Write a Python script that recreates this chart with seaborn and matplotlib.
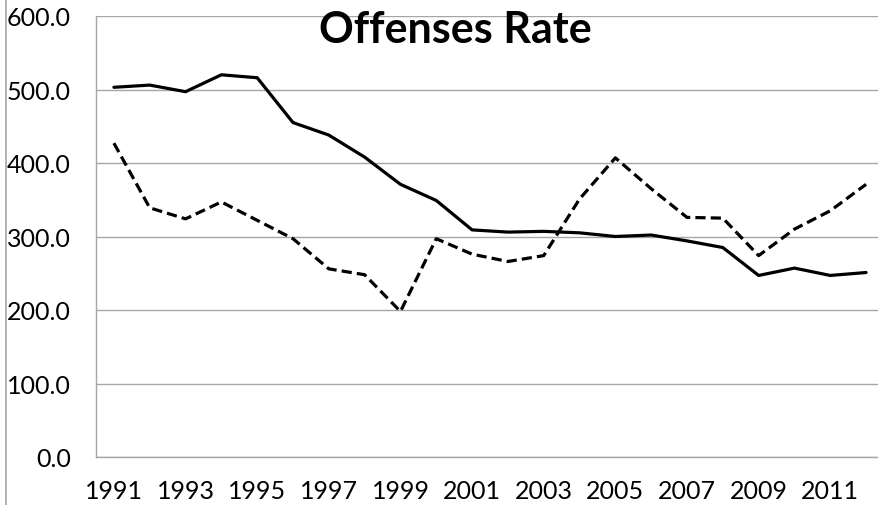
#%% importar librerias
import matplotlib
matplotlib.use("Agg")
import matplotlib.pyplot as plt
import matplotlib.lines as mlines
import pandas as pd
import seaborn as sns

#%% datos
years = list(range(1991, 2013))
solid_rate = [503, 506, 497, 520, 516, 455, 438, 408, 371, 349, 309,
              306, 307, 305, 300, 302, 294, 285, 247, 257, 247, 251]
dashed_rate = [427, 339, 324, 347, 322, 297, 256, 248, 198, 297, 276,
               266, 274, 351, 407, 365, 326, 325, 274, 310, 335, 371]
tick_years = list(range(1991, 2012, 2))
y_ticks = [0, 100, 200, 300, 400, 500, 600]

df = pd.DataFrame({
    "year": years * 2,
    "rate": solid_rate + dashed_rate,
    "serie": ["Serie 1"] * len(years) + ["Serie 2"] * len(years),
})

#%% estilo
sns.set_style("white")
plt.rcParams["font.family"] = ["Lato", "DejaVu Sans"]

fig = plt.figure(figsize=(8.79, 5.06), dpi=100)
W, H = 879, 506
ax = fig.add_axes([96 / W, (H - 458) / H, (884 - 96) / W, (458 - 17) / H])

sns.lineplot(data=df, x="year", y="rate", hue="serie", style="serie",
             palette=["black", "black"],
             dashes={"Serie 1": "", "Serie 2": (3.2, 1.6)},
             linewidth=2.3, legend=False, ax=ax)

ax.set_xlim(1990.5, 2012.5)
ax.set_ylim(0, 600)
ax.set_yticks(y_ticks)
ax.set_yticklabels([f"{v:.1f}" for v in y_ticks])
ax.set_xticks(tick_years)
ax.set_xticklabels([str(y) for y in tick_years])
ax.set_xlabel("")
ax.set_ylabel("")
ax.tick_params(axis="both", length=0, labelsize=18, colors="black")
ax.tick_params(axis="y", pad=18)
ax.tick_params(axis="x", pad=16)

ax.grid(axis="y", color="#a6a6a6", linewidth=1.0)
ax.set_axisbelow(True)
for s in ["top", "right"]:
    ax.spines[s].set_visible(False)
for s in ["left", "bottom"]:
    ax.spines[s].set_color("#a6a6a6")
    ax.spines[s].set_linewidth(1.0)

# borde izquierdo del area del grafico
fig.add_artist(mlines.Line2D([6.5 / W, 6.5 / W], [0, 1], color="#a6a6a6",
                             linewidth=1.2, transform=fig.transFigure))

fig.text(455 / W, 1 - 43 / H, "Offenses Rate", ha="center", va="baseline",
         fontsize=31, fontweight="bold", color="black")

fig.savefig("out.png", dpi=100)
